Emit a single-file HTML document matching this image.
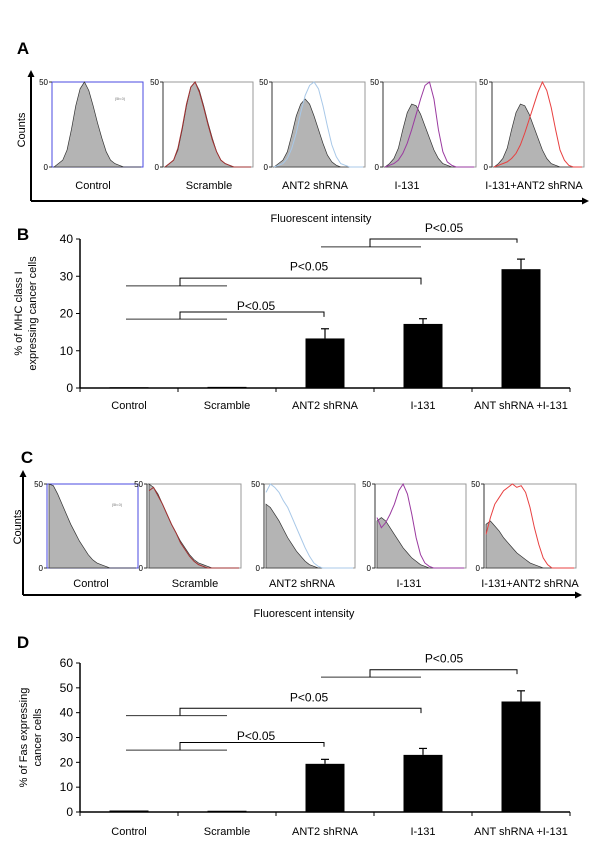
<!DOCTYPE html>
<html><head><meta charset="utf-8">
<style>
html,body{margin:0;padding:0;background:#fff;}
svg{display:block;font-family:"Liberation Sans",Arial,sans-serif;}
</style></head>
<body>
<svg id="fig" width="600" height="845" viewBox="0 0 600 845" xmlns="http://www.w3.org/2000/svg">
</svg>
<script>
// ---------- Panel A histogram data (counts 0-50, 21 bins across intensity) ----------
const histLabelsA = ["Control","Scramble","ANT2 shRNA","I-131","I-131+ANT2 shRNA"];
const grayA_control = [0,2,4,10,22,36,46,50,45,36,26,17,9,4,2,1,0,0,0,0,0];
const grayA_scramble = [0,2,4,10,22,36,47,50,45,36,26,17,9,4,2,1,0,0,0,0,0];
const lineA_scramble = [0,2,4,11,23,37,47,50,44,35,25,16,9,4,2,1,0,0,0,0,0];
const grayA_ant2 = [0,2,4,9,19,30,37,40,37,30,22,14,7,3,1,0,0,0,0,0,0];
const lineA_ant2 = [0,1,2,5,11,20,32,42,48,50,46,36,24,13,6,2,1,0,0,0,0];
const grayA_i131 = [0,2,5,11,22,32,37,36,31,24,17,10,5,2,1,0,0,0,0,0,0];
const lineA_i131 = [0,1,2,4,8,14,22,31,40,48,50,40,22,9,3,1,0,0,0,0,0];
const grayA_combo = [0,2,5,11,22,32,37,36,31,24,17,10,5,2,1,0,0,0,0,0,0];
const lineA_combo = [0,1,2,3,5,8,13,20,28,36,44,50,45,35,22,10,4,1,0,0,0];
// ---------- Panel C histogram data ----------
const grayC_control = [50,49,44,38,32,26,21,16,12,8,5,3,2,1,0,0,0,0,0,0,0];
const grayC_scramble = [50,48,44,38,32,26,21,16,12,8,5,3,2,1,0,0,0,0,0,0,0];
const lineC_scramble = [46,48,43,38,32,26,21,15,11,7,4,2,1,0,0,0,0,0,0,0,0];
const grayC_ant2 = [38,36,32,28,23,18,14,10,7,4,2,1,0,0,0,0,0,0,0,0,0];
const lineC_ant2 = [45,50,48,45,40,36,30,24,18,12,7,3,1,0,0,0,0,0,0,0,0];
const grayC_i131 = [28,30,28,24,20,16,12,9,6,4,2,1,0,0,0,0,0,0,0,0,0];
const lineC_i131 = [30,24,27,32,38,46,50,44,32,18,8,3,1,0,0,0,0,0,0,0,0];
const grayC_combo = [26,28,25,22,18,15,12,9,7,5,3,2,1,0,0,0,0,0,0,0,0];
const lineC_combo = [20,30,38,42,46,48,50,48,49,45,36,24,14,6,2,0,0,0,0,0,0];
// ---------- Panel B bar data ----------
const categories = ["Control","Scramble","ANT2 shRNA","I-131","ANT shRNA +I-131"];
const mhcValues = [0.2,0.3,13.3,17.2,31.9];
const mhcErrors = [0.2,0.3,15.9,18.6,34.6];
const mhcTicks = [0,10,20,30,40];
// ---------- Panel D bar data ----------
const fasValues = [0.6,0.5,19.4,23.0,44.5];
const fasErrors = [0.6,0.5,21.2,25.6,48.8];
const fasTicks = [0,10,20,30,40,50,60];

const NS="http://www.w3.org/2000/svg";
const svg=document.getElementById('fig');
function mk(tag,attrs,parent){const e=document.createElementNS(NS,tag);for(const k in attrs)e.setAttribute(k,attrs[k]);(parent||svg).appendChild(e);return e;}
function txt(x,y,s,size,anchor,parent,extra){const t=mk('text',Object.assign({x:x,y:y,'font-size':size,'text-anchor':anchor||'middle',fill:'#000'},extra||{}),parent);t.textContent=s;return t;}

function arrowAxes(g,x0,yTop,yAxis,xEnd){
  mk('line',{x1:x0,y1:yAxis,x2:x0,y2:yTop+6,stroke:'#000','stroke-width':2},g);
  mk('polygon',{points:`${x0-3.5},${yTop+7} ${x0+3.5},${yTop+7} ${x0},${yTop}`,fill:'#000'},g);
  mk('line',{x1:x0,y1:yAxis,x2:xEnd-6,y2:yAxis,stroke:'#000','stroke-width':2},g);
  mk('polygon',{points:`${xEnd-7},${yAxis-3.5} ${xEnd-7},${yAxis+3.5} ${xEnd},${yAxis}`,fill:'#000'},g);
}

function histPanel(g,x0,x1,yT,yB,gray,line,color,blue,label,labelX,labelY,name){
  const p=mk('g',{},g);
  
  
  const xs=i=>x0+2+(x1-x0-4)*i/(gray.length-1);
  const ys=v=>yB-(yB-yT)*v/50;
  // box
  mk('rect',{x:x0,y:yT,width:x1-x0,height:yB-yT,fill:'#fff',stroke:blue?'#4a4ae0':'#999','stroke-width':1},p);
  mk('line',{x1:x0,y1:yT,x2:x0,y2:yB,stroke:blue?'#4a4ae0':'#333','stroke-width':1},p);
  // gray fill
  let d=`M${xs(0)},${yB}`;gray.forEach((v,i)=>{d+=` L${xs(i)},${ys(v)}`;});d+=` L${xs(gray.length-1)},${yB} Z`;
  const area=mk('path',{d:d,fill:'#b4b4b4',stroke:'#333','stroke-width':0.7},p);
  
  
  if(line){
    const pts=line.map((v,i)=>`${xs(i)},${ys(v)}`).join(' ');
    const pl=mk('polyline',{points:pts,fill:'none',stroke:color,'stroke-width':1},p);
    
    
  }
  // ticks
  mk('line',{x1:x0-3,y1:yT,x2:x0,y2:yT,stroke:'#333'},p);
  mk('line',{x1:x0-3,y1:yB,x2:x0,y2:yB,stroke:'#333'},p);
  txt(x0-4,yT+3,'50',8,'end',p);
  txt(x0-4,yB+3,'0',8,'end',p);
  const l=txt(labelX,labelY,label,11,'middle',p);
  
  
}

// ===== Panel A =====
const gA=mk('g',{});


txt(23,54,'A',17,'middle',gA,{'font-weight':'bold'});
arrowAxes(gA,31,70,201,589);
const cntA=txt(0,0,'Counts',11,'middle',gA,{transform:'translate(25,130) rotate(-90)'});


const fA=txt(321,222,'Fluorescent intensity',11,'middle',gA);


const boxesA=[[52,143],[163,253],[272,365],[383,476],[492,584]];
const lblXA=[93,209,315,407,534];
const grA=[grayA_control,grayA_scramble,grayA_ant2,grayA_i131,grayA_combo];
const lnA=[null,lineA_scramble,lineA_ant2,lineA_i131,lineA_combo];
const colA=[null,'#a03030','#a8c8e8','#9a3aa0','#e84040'];
for(let i=0;i<5;i++)histPanel(gA,boxesA[i][0],boxesA[i][1],82,167,grA[i],lnA[i],colA[i],i===0,histLabelsA[i],lblXA[i],189,'histogram-a-'+(i+1));
txt(120,100,'(5b.0)',4,'middle',gA,{fill:'#777'});

// ===== Panel C =====
const gC=mk('g',{});


txt(27,463,'C',17,'middle',gC,{'font-weight':'bold'});
arrowAxes(gC,23,470,595,582);
const cntC=txt(0,0,'Counts',11,'middle',gC,{transform:'translate(21,527) rotate(-90)'});


const fC=txt(304,617,'Fluorescent intensity',11,'middle',gC);


const boxesC=[[47,138],[147,241],[264,355],[375,466],[484,576]];
const lblXC=[91,195,302,409,530];
const grC=[grayC_control,grayC_scramble,grayC_ant2,grayC_i131,grayC_combo];
const lnC=[null,lineC_scramble,lineC_ant2,lineC_i131,lineC_combo];
for(let i=0;i<5;i++)histPanel(gC,boxesC[i][0],boxesC[i][1],484,568,grC[i],lnC[i],colA[i],i===0,histLabelsA[i],lblXC[i],587,'histogram-c-'+(i+1));
txt(117,506,'(5b.0)',4,'middle',gC,{fill:'#777'});

// ===== Bar charts =====
function barChart(name,letter,letterY,yZero,yMax,maxV,ticks,values,errors,titleLines,titleX,brackets,labelY){
  const g=mk('g',{});
  
  
  const x0=80,x1=570,cw=(x1-x0)/categories.length;
  const y=v=>yZero-(yZero-yMax)*v/maxV;
  const xc=i=>x0+cw*(i+0.5);
  txt(23,letterY,letter,17,'middle',g,{'font-weight':'bold'});
  mk('line',{x1:x0,y1:y(maxV),x2:x0,y2:yZero,stroke:'#000','stroke-width':1.5},g);
  mk('line',{x1:x0,y1:yZero,x2:x1,y2:yZero,stroke:'#000','stroke-width':1.5},g);
  ticks.forEach(t=>{
    mk('line',{x1:x0-4,y1:y(t),x2:x0,y2:y(t),stroke:'#000'},g);
    const tl=txt(x0-7,y(t)+4,String(t),12,'end',g);
    
    
  });
  for(let i=0;i<=categories.length;i++){mk('line',{x1:x0+cw*i,y1:yZero,x2:x0+cw*i,y2:yZero+4,stroke:'#000'},g);}
  categories.forEach((c,i)=>{
    const bw=39;
    const b=mk('rect',{x:xc(i)-bw/2,y:y(values[i]),width:bw,height:yZero-y(values[i]),fill:'#000'},g);
    
    
    if(errors[i]>values[i]+0.5){
      mk('line',{x1:xc(i),y1:y(values[i]),x2:xc(i),y2:y(errors[i]),stroke:'#000','stroke-width':1.2},g);
      mk('line',{x1:xc(i)-4,y1:y(errors[i]),x2:xc(i)+4,y2:y(errors[i]),stroke:'#000','stroke-width':1.2},g);
    }
    const l=txt(xc(i),labelY,c,11,'middle',g);
    
    
  });
  const tt=mk('text',{transform:`translate(${titleX},${y(maxV/2)}) rotate(-90)`,'font-size':11,'text-anchor':'middle',fill:'#000'},g);
  
  
  titleLines.forEach((s,k)=>{const ts=mk('tspan',{x:0,dy:k===0?0:14},tt);ts.textContent=s;});
  brackets.forEach(br=>{
    // br: [leftStart,leftEnd,pivotX,baseVal,topVal,rightX,rightEndVal,textVal,textX]
    const bg=mk('g',{},g);
    
    
    mk('line',{x1:br[0],y1:y(br[3]),x2:br[1],y2:y(br[3]),stroke:'#333','stroke-width':1},bg);
    mk('polyline',{points:`${br[2]},${y(br[3])} ${br[2]},${y(br[4])} ${br[5]},${y(br[4])} ${br[5]},${y(br[6])}`,fill:'none',stroke:'#000','stroke-width':1},bg);
    txt(br[8],y(br[7])+4,'P<0.05',12,'middle',bg);
  });
  return g;
}
barChart('bar-chart-b','B',240,388,239,40,mhcTicks,mhcValues,mhcErrors,['% of MHC class I','expressing cancer cells'],22,
  [[126,227,180,18.5,20.4,324,19.1,22,256],[126,227,180,27.4,29.5,421,27.8,32.6,309],[321,421,370,37.9,40.0,517,39,43,444]],409);
barChart('bar-chart-d','D',648,812,663,60,fasTicks,fasValues,fasErrors,['% of Fas  expressing','cancer cells'],27,
  [[126,227,180,24.9,28.0,324,26.3,30.6,256],[126,227,180,38.8,41.8,421,39.8,46.2,309],[321,421,370,54.3,57.3,517,55.5,61.8,444]],835);
</script>
</body></html>
